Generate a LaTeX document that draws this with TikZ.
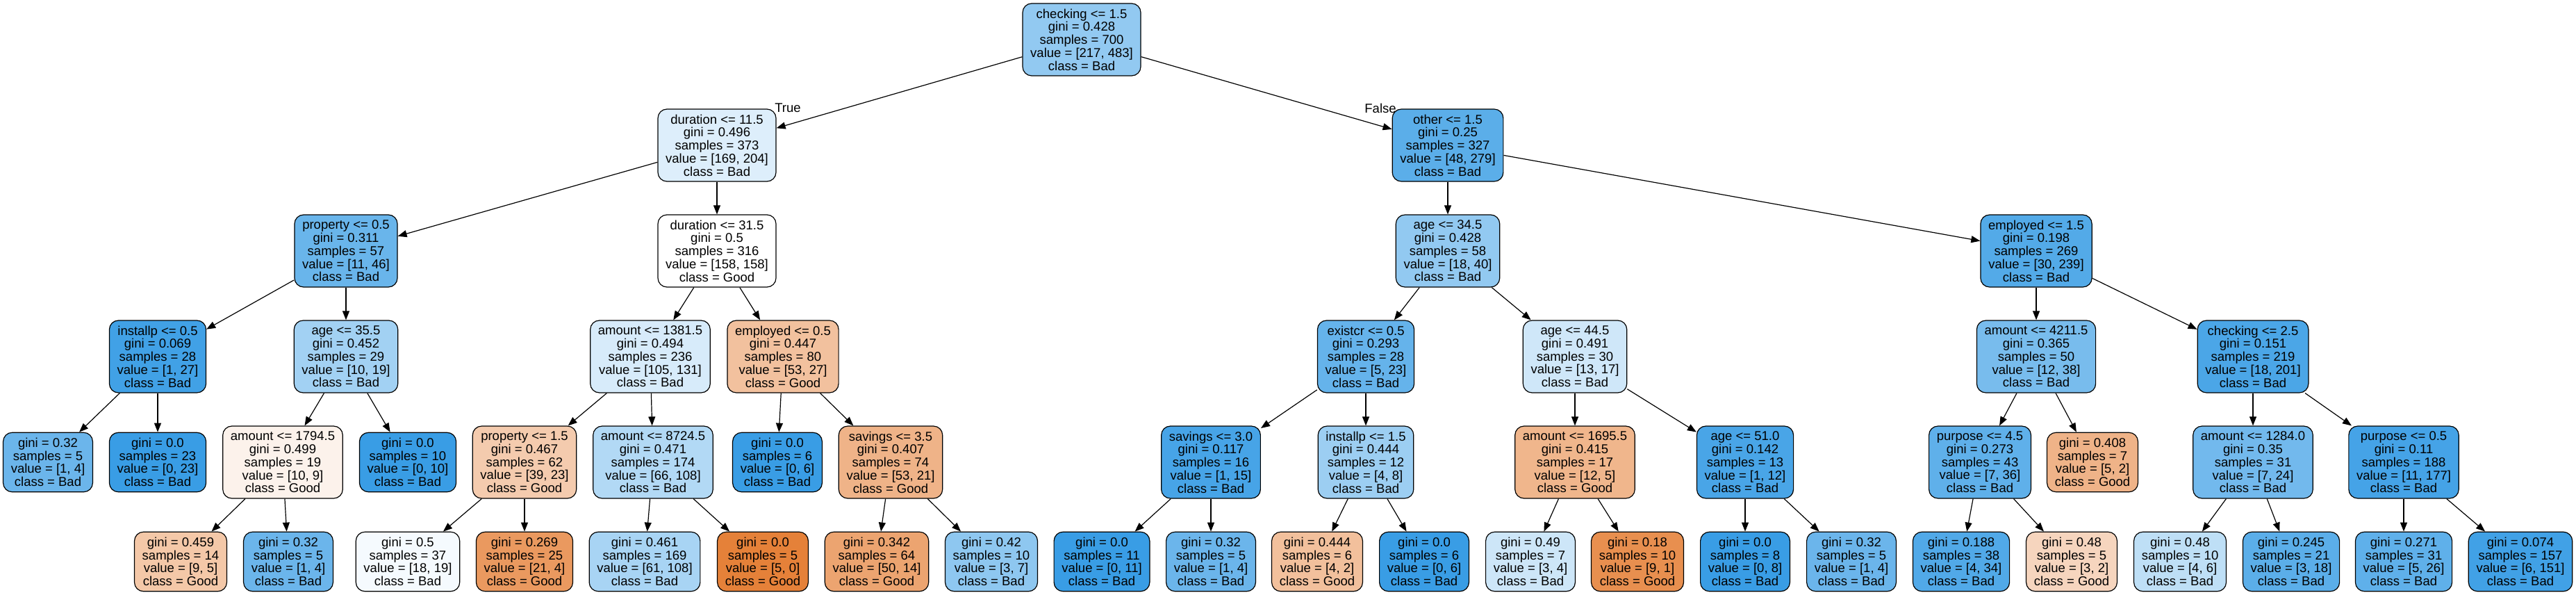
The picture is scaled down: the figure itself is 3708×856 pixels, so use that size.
\documentclass[tikz,border=0pt]{standalone}
\usepackage{fontspec}
\setmainfont{Liberation Sans}
\usepackage{tikz}
\usepackage{xcolor}
\usetikzlibrary{arrows.meta}
\definecolor{good}{RGB}{229,129,57}
\definecolor{bad}{RGB}{57,157,229}

\begin{document}
\begin{tikzpicture}[x=0.5pt,y=-0.5pt,
  font=\fontsize{9.25}{9.35}\selectfont,
  decision/.style={draw, line width=0.6pt, rounded corners=6.5pt, align=center,
    inner xsep=5.6pt, inner ysep=1pt, minimum height=52pt},
  leafbox/.style={decision, minimum height=42.75pt},
  branch/.style={line width=0.6pt, -{Triangle[length=6.5pt,width=5pt]}}]
\useasboundingbox (0,0) rectangle (3708,856);
\node[decision, fill=bad!55] (n0) at (1557,57) {checking <= 1.5\\gini = 0.428\\samples = 700\\value = [217, 483]\\class = Bad};
\node[decision, fill=bad!17] (n1) at (1032,209) {duration <= 11.5\\gini = 0.496\\samples = 373\\value = [169, 204]\\class = Bad};
\node[decision, fill=bad!83] (n24) at (2084,209) {other <= 1.5\\gini = 0.25\\samples = 327\\value = [48, 279]\\class = Bad};
\node[decision, fill=bad!76] (n2) at (498,361) {property <= 0.5\\gini = 0.311\\samples = 57\\value = [11, 46]\\class = Bad};
\node[decision, fill=white] (n11) at (1032,361) {duration <= 31.5\\gini = 0.5\\samples = 316\\value = [158, 158]\\class = Good};
\node[decision, fill=bad!55] (n25) at (2084,361) {age <= 34.5\\gini = 0.428\\samples = 58\\value = [18, 40]\\class = Bad};
\node[decision, fill=bad!87] (n40) at (2931,361) {employed <= 1.5\\gini = 0.198\\samples = 269\\value = [30, 239]\\class = Bad};
\node[decision, fill=bad!96] (n3) at (227,513) {installp <= 0.5\\gini = 0.069\\samples = 28\\value = [1, 27]\\class = Bad};
\node[decision, fill=bad!47] (n6) at (498,513) {age <= 35.5\\gini = 0.452\\samples = 29\\value = [10, 19]\\class = Bad};
\node[decision, fill=bad!20] (n12) at (936,513) {amount <= 1381.5\\gini = 0.494\\samples = 236\\value = [105, 131]\\class = Bad};
\node[decision, fill=good!49] (n19) at (1127,513) {employed <= 0.5\\gini = 0.447\\samples = 80\\value = [53, 27]\\class = Good};
\node[decision, fill=bad!78] (n26) at (1966,513) {existcr <= 0.5\\gini = 0.293\\samples = 28\\value = [5, 23]\\class = Bad};
\node[decision, fill=bad!24] (n33) at (2267,513) {age <= 44.5\\gini = 0.491\\samples = 30\\value = [13, 17]\\class = Bad};
\node[decision, fill=bad!68] (n41) at (2931,513) {amount <= 4211.5\\gini = 0.365\\samples = 50\\value = [12, 38]\\class = Bad};
\node[decision, fill=bad!91] (n46) at (3243,513) {checking <= 2.5\\gini = 0.151\\samples = 219\\value = [18, 201]\\class = Bad};
\node[leafbox, fill=bad!75] (n4) at (69,665) {gini = 0.32\\samples = 5\\value = [1, 4]\\class = Bad};
\node[leafbox, fill=bad] (n5) at (227,665) {gini = 0.0\\samples = 23\\value = [0, 23]\\class = Bad};
\node[decision, fill=good!10] (n7) at (407,665) {amount <= 1794.5\\gini = 0.499\\samples = 19\\value = [10, 9]\\class = Good};
\node[leafbox, fill=bad] (n10) at (587,665) {gini = 0.0\\samples = 10\\value = [0, 10]\\class = Bad};
\node[decision, fill=good!41] (n13) at (755,665) {property <= 1.5\\gini = 0.467\\samples = 62\\value = [39, 23]\\class = Good};
\node[decision, fill=bad!39] (n16) at (940,665) {amount <= 8724.5\\gini = 0.471\\samples = 174\\value = [66, 108]\\class = Bad};
\node[leafbox, fill=bad] (n20) at (1119,665) {gini = 0.0\\samples = 6\\value = [0, 6]\\class = Bad};
\node[decision, fill=good!60] (n21) at (1282,665) {savings <= 3.5\\gini = 0.407\\samples = 74\\value = [53, 21]\\class = Good};
\node[decision, fill=bad!93] (n27) at (1743,665) {savings <= 3.0\\gini = 0.117\\samples = 16\\value = [1, 15]\\class = Bad};
\node[decision, fill=bad!50] (n30) at (1966,665) {installp <= 1.5\\gini = 0.444\\samples = 12\\value = [4, 8]\\class = Bad};
\node[decision, fill=good!58] (n34) at (2267,665) {amount <= 1695.5\\gini = 0.415\\samples = 17\\value = [12, 5]\\class = Good};
\node[decision, fill=bad!92] (n37) at (2512,665) {age <= 51.0\\gini = 0.142\\samples = 13\\value = [1, 12]\\class = Bad};
\node[decision, fill=bad!81] (n42) at (2850,665) {purpose <= 4.5\\gini = 0.273\\samples = 43\\value = [7, 36]\\class = Bad};
\node[leafbox, fill=good!60] (n45) at (3012,665) {gini = 0.408\\samples = 7\\value = [5, 2]\\class = Good};
\node[decision, fill=bad!71] (n47) at (3243,665) {amount <= 1284.0\\gini = 0.35\\samples = 31\\value = [7, 24]\\class = Bad};
\node[decision, fill=bad!94] (n50) at (3460,665) {purpose <= 0.5\\gini = 0.11\\samples = 188\\value = [11, 177]\\class = Bad};
\node[leafbox, fill=good!44] (n8) at (260,808) {gini = 0.459\\samples = 14\\value = [9, 5]\\class = Good};
\node[leafbox, fill=bad!75] (n9) at (415,808) {gini = 0.32\\samples = 5\\value = [1, 4]\\class = Bad};
\node[leafbox, fill=bad!5] (n14) at (587,808) {gini = 0.5\\samples = 37\\value = [18, 19]\\class = Bad};
\node[leafbox, fill=good!81] (n15) at (755,808) {gini = 0.269\\samples = 25\\value = [21, 4]\\class = Good};
\node[leafbox, fill=bad!44] (n17) at (928,808) {gini = 0.461\\samples = 169\\value = [61, 108]\\class = Bad};
\node[leafbox, fill=good] (n18) at (1098,808) {gini = 0.0\\samples = 5\\value = [5, 0]\\class = Good};
\node[leafbox, fill=good!72] (n22) at (1262,808) {gini = 0.342\\samples = 64\\value = [50, 14]\\class = Good};
\node[leafbox, fill=bad!57] (n23) at (1427,808) {gini = 0.42\\samples = 10\\value = [3, 7]\\class = Bad};
\node[leafbox, fill=bad] (n28) at (1586,808) {gini = 0.0\\samples = 11\\value = [0, 11]\\class = Bad};
\node[leafbox, fill=bad!75] (n29) at (1743,808) {gini = 0.32\\samples = 5\\value = [1, 4]\\class = Bad};
\node[leafbox, fill=good!50] (n31) at (1896,808) {gini = 0.444\\samples = 6\\value = [4, 2]\\class = Good};
\node[leafbox, fill=bad] (n32) at (2050,808) {gini = 0.0\\samples = 6\\value = [0, 6]\\class = Bad};
\node[leafbox, fill=bad!25] (n35) at (2203,808) {gini = 0.49\\samples = 7\\value = [3, 4]\\class = Bad};
\node[leafbox, fill=good!89] (n36) at (2357,808) {gini = 0.18\\samples = 10\\value = [9, 1]\\class = Good};
\node[leafbox, fill=bad] (n38) at (2512,808) {gini = 0.0\\samples = 8\\value = [0, 8]\\class = Bad};
\node[leafbox, fill=bad!75] (n39) at (2665,808) {gini = 0.32\\samples = 5\\value = [1, 4]\\class = Bad};
\node[leafbox, fill=bad!88] (n43) at (2823,808) {gini = 0.188\\samples = 38\\value = [4, 34]\\class = Bad};
\node[leafbox, fill=good!33] (n44) at (2982,808) {gini = 0.48\\samples = 5\\value = [3, 2]\\class = Good};
\node[leafbox, fill=bad!33] (n48) at (3138,808) {gini = 0.48\\samples = 10\\value = [4, 6]\\class = Bad};
\node[leafbox, fill=bad!83] (n49) at (3298,808) {gini = 0.245\\samples = 21\\value = [3, 18]\\class = Bad};
\node[leafbox, fill=bad!81] (n51) at (3460,808) {gini = 0.271\\samples = 31\\value = [5, 26]\\class = Bad};
\node[leafbox, fill=bad!96] (n52) at (3628,808) {gini = 0.074\\samples = 157\\value = [6, 151]\\class = Bad};
\node (lbtrue) at (1134,155) {True};
\node (lbfalse) at (1987,156) {False};
\draw[branch] (n0) -- (n1);
\draw[branch] (n0) -- (n24);
\draw[branch] (n1) -- (n2);
\draw[branch] (n1) -- (n11);
\draw[branch] (n2) -- (n3);
\draw[branch] (n2) -- (n6);
\draw[branch] (n3) -- (n4);
\draw[branch] (n3) -- (n5);
\draw[branch] (n6) -- (n7);
\draw[branch] (n6) -- (n10);
\draw[branch] (n7) -- (n8);
\draw[branch] (n7) -- (n9);
\draw[branch] (n11) -- (n12);
\draw[branch] (n11) -- (n19);
\draw[branch] (n12) -- (n13);
\draw[branch] (n12) -- (n16);
\draw[branch] (n13) -- (n14);
\draw[branch] (n13) -- (n15);
\draw[branch] (n16) -- (n17);
\draw[branch] (n16) -- (n18);
\draw[branch] (n19) -- (n20);
\draw[branch] (n19) -- (n21);
\draw[branch] (n21) -- (n22);
\draw[branch] (n21) -- (n23);
\draw[branch] (n24) -- (n25);
\draw[branch] (n24) -- (n40);
\draw[branch] (n25) -- (n26);
\draw[branch] (n25) -- (n33);
\draw[branch] (n26) -- (n27);
\draw[branch] (n26) -- (n30);
\draw[branch] (n27) -- (n28);
\draw[branch] (n27) -- (n29);
\draw[branch] (n30) -- (n31);
\draw[branch] (n30) -- (n32);
\draw[branch] (n33) -- (n34);
\draw[branch] (n33) -- (n37);
\draw[branch] (n34) -- (n35);
\draw[branch] (n34) -- (n36);
\draw[branch] (n37) -- (n38);
\draw[branch] (n37) -- (n39);
\draw[branch] (n40) -- (n41);
\draw[branch] (n40) -- (n46);
\draw[branch] (n41) -- (n42);
\draw[branch] (n41) -- (n45);
\draw[branch] (n42) -- (n43);
\draw[branch] (n42) -- (n44);
\draw[branch] (n46) -- (n47);
\draw[branch] (n46) -- (n50);
\draw[branch] (n47) -- (n48);
\draw[branch] (n47) -- (n49);
\draw[branch] (n50) -- (n51);
\draw[branch] (n50) -- (n52);
\end{tikzpicture}
\end{document}
